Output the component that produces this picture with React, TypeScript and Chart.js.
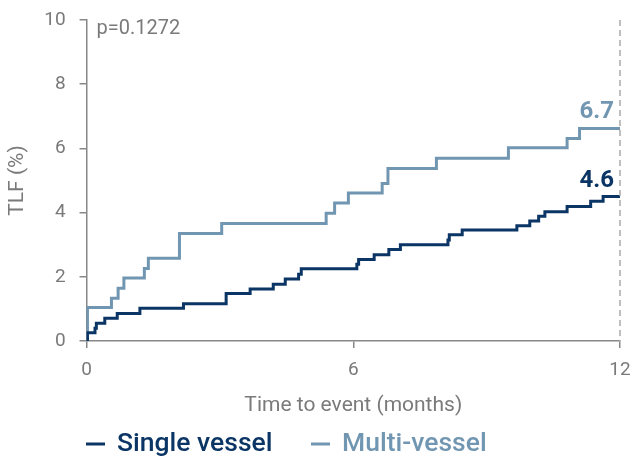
import React, { useEffect, useRef } from "react";
import { Chart, registerables } from "chart.js";

Chart.register(...registerables);

const multiTimes = [0, 0.02, 0.56, 0.71, 0.84, 1.3, 1.39, 2.09, 3.04, 5.39, 5.58, 5.89, 6.65, 6.78, 7.87, 9.49, 10.81, 11.09, 12];
const multiValues = [0, 1.04, 1.33, 1.64, 1.96, 2.26, 2.58, 3.35, 3.66, 3.98, 4.3, 4.61, 4.91, 5.37, 5.69, 6.02, 6.31, 6.62, 6.62];

const singleTimes = [0, 0.02, 0.19, 0.22, 0.41, 0.69, 1.2, 2.18, 3.14, 3.68, 4.2, 4.47, 4.77, 4.83, 6.08, 6.12, 6.47, 6.8, 7.06, 8.13, 8.16, 8.45, 9.68, 9.97, 10.17, 10.31, 10.81, 11.34, 11.62, 12];
const singleValues = [0, 0.26, 0.4, 0.55, 0.71, 0.86, 1.02, 1.16, 1.48, 1.62, 1.77, 1.93, 2.08, 2.25, 2.39, 2.54, 2.69, 2.85, 3.0, 3.15, 3.31, 3.46, 3.59, 3.74, 3.89, 4.03, 4.19, 4.35, 4.5, 4.5];

const seriesNames = ["Single vessel", "Multi-vessel"];
const endLabels = ["4.6", "6.7"];
const pValueText = "p=0.1272";
const xTicks = [0, 6, 12];
const yTicks = [0, 2, 4, 6, 8, 10];

const DARK = "#0b3565";
const LIGHT = "#7196b1";
const GREY = "#7a7a7a";
const FONT = "Roboto, 'DejaVu Sans', sans-serif";

export default function App() {
  const ref = useRef<HTMLCanvasElement | null>(null);

  useEffect(() => {
    if (!ref.current) return;
    const overlay = {
      id: "overlay",
      afterDraw(chart: any) {
        const { ctx, chartArea, scales } = chart;
        const xs = scales.x;
        const ys = scales.y;
        ctx.save();
        // dashed line at 12 months
        ctx.strokeStyle = "#aaaaaa";
        ctx.lineWidth = 1.5;
        ctx.setLineDash([6, 4]);
        const x12 = xs.getPixelForValue(12);
        ctx.beginPath();
        ctx.moveTo(x12, chartArea.top);
        ctx.lineTo(x12, chartArea.bottom);
        ctx.stroke();
        ctx.setLineDash([]);
        // p value
        ctx.fillStyle = GREY;
        ctx.font = `20px ${FONT}`;
        ctx.textBaseline = "middle";
        ctx.textAlign = "left";
        ctx.fillText(pValueText, xs.getPixelForValue(0) + 10, chartArea.top + 9);
        // end labels
        ctx.textAlign = "right";
        ctx.textBaseline = "alphabetic";
        ctx.font = `bold 24px ${FONT}`;
        ctx.fillStyle = DARK;
        ctx.fillText(endLabels[0], x12 - 6, ys.getPixelForValue(singleValues[singleValues.length - 1]) - 10);
        ctx.fillStyle = LIGHT;
        ctx.fillText(endLabels[1], x12 - 6, ys.getPixelForValue(multiValues[multiValues.length - 1]) - 10);
        // legend
        const ly = 444;
        ctx.font = `500 26.5px ${FONT}`;
        ctx.textAlign = "left";
        ctx.textBaseline = "middle";
        const items = [
          { name: seriesNames[0], color: DARK, x: 86 },
          { name: seriesNames[1], color: LIGHT, x: 311 },
        ];
        for (const it of items) {
          ctx.strokeStyle = it.color;
          ctx.lineWidth = 3;
          ctx.beginPath();
          ctx.moveTo(it.x, ly);
          ctx.lineTo(it.x + 19, ly);
          ctx.stroke();
          ctx.fillStyle = it.color;
          ctx.fillText(it.name, it.x + 31, ly);
        }
        ctx.restore();
      },
    };

    const chart = new Chart(ref.current, {
      type: "line",
      data: {
        datasets: [
          {
            label: seriesNames[0],
            data: singleTimes.map((t, i) => ({ x: t, y: singleValues[i] })),
            borderColor: DARK,
            borderWidth: 3,
            pointRadius: 0,
            stepped: "before",
            fill: false,
          },
          {
            label: seriesNames[1],
            data: multiTimes.map((t, i) => ({ x: t, y: multiValues[i] })),
            borderColor: LIGHT,
            borderWidth: 3,
            pointRadius: 0,
            stepped: "before",
            fill: false,
          },
        ],
      },
      options: {
        animation: false,
        responsive: true,
        maintainAspectRatio: false,
        layout: { padding: { top: 20, right: 0, left: 0, bottom: 34 } },
        plugins: { legend: { display: false }, tooltip: { enabled: false } },
        scales: {
          x: {
            type: "linear",
            min: 0,
            max: 12,
            afterBuildTicks: (axis: any) => {
              axis.ticks = xTicks.map((v) => ({ value: v }));
            },
            afterFit: (axis: any) => {
              axis.paddingLeft = 0;
              axis.paddingRight = 11;
            },
            grid: { display: true, drawOnChartArea: false, drawTicks: true, tickLength: 7, color: "#888", lineWidth: 1.5 },
            border: { display: true, color: "#888", width: 1.5 },
            ticks: { color: GREY, font: { family: FONT, size: 19 }, padding: 11, maxRotation: 0 },
            title: { display: true, text: "Time to event (months)", color: GREY, font: { family: FONT, size: 21 }, padding: { top: 0, bottom: 8 } },
          },
          y: {
            min: 0,
            max: 10,
            afterBuildTicks: (axis: any) => {
              axis.ticks = yTicks.map((v) => ({ value: v }));
            },
            afterFit: (axis: any) => {
              axis.paddingTop = 0;
              axis.paddingBottom = 0;
            },
            grid: { display: true, drawOnChartArea: false, drawTicks: true, tickLength: 7, color: "#888", lineWidth: 1.5 },
            border: { display: true, color: "#888", width: 1.5 },
            ticks: { color: GREY, font: { family: FONT, size: 19 }, padding: 14 },
            title: { display: true, text: "TLF (%)", color: GREY, font: { family: FONT, size: 21 }, padding: { top: 5, bottom: 0 } },
          },
        },
      },
      plugins: [overlay],
    });
    return () => chart.destroy();
  }, []);

  return (
    <div style={{ position: "fixed", left: 0, top: 0, width: 631, height: 460 }}>
      <canvas ref={ref} />
    </div>
  );
}
